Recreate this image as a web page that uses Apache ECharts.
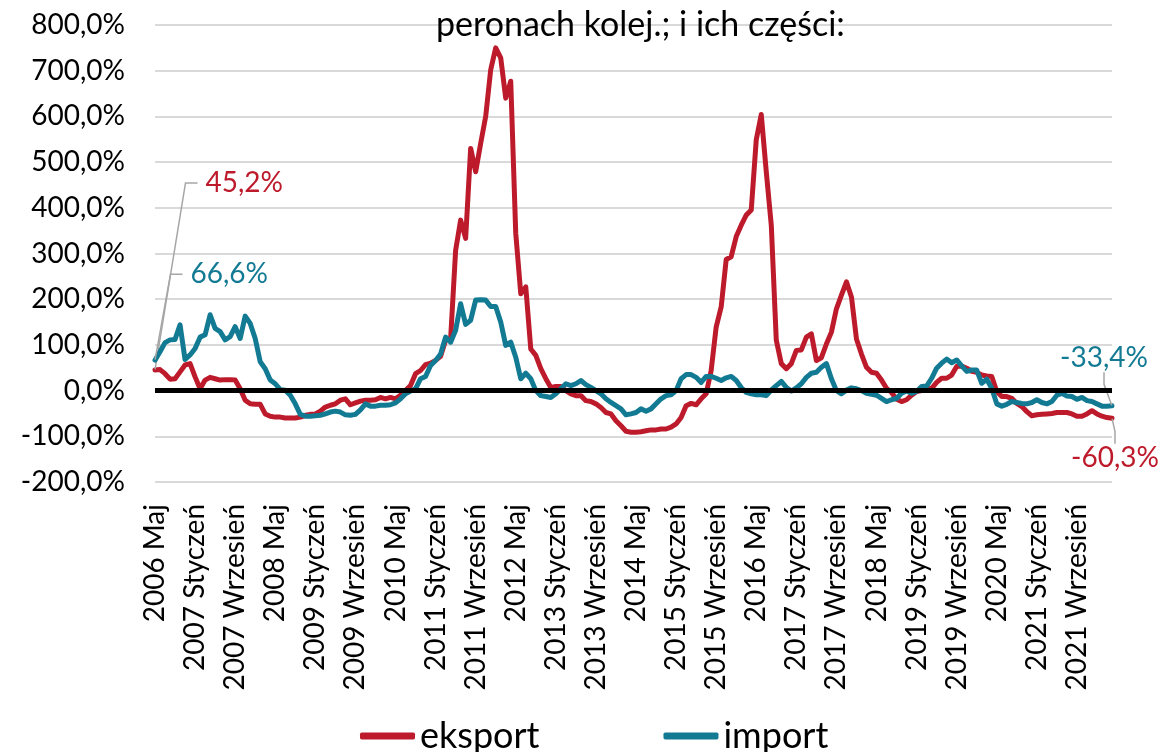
<!DOCTYPE html>
<html>
<head>
<meta charset="utf-8">
<script src="https://cdn.jsdelivr.net/npm/echarts@6/dist/echarts.min.js"></script>
<style>
html,body{margin:0;padding:0;background:#fff;}
#c{width:1160px;height:752px;}
</style>
</head>
<body>
<div id="c"></div>
<script>
const titleText = 'peronach kolej.; i ich części:';
const monthNames = ['Styczeń','Luty','Marzec','Kwiecień','Maj','Czerwiec','Lipiec','Sierpień','Wrzesień','Październik','Listopad','Grudzień'];
const startYear = 2006, startMonth = 4, nMonths = 192;
const seriesNames = ['eksport','import'];
const yTicks = {min:-200, max:800, interval:100};

const eksport = [
 45.2, 46, 37, 25, 26, 41, 56, 59, 30, 4, 23, 29, 26, 23, 24, 24, 23, 4, -21, -29,
 -30, -30, -51, -56, -58, -58, -60, -60, -60, -58, -54, -52, -51, -45, -36, -32, -29, -21, -18, -31,
 -27, -23, -21, -21, -20, -15, -18, -15, -18, -10,
 0, 11, 37, 44, 57, 60, 66, 75, 110, 113, 307, 373, 333, 530, 479, 541, 600, 702, 750, 728,
 640, 677, 344, 212, 227, 91, 77, 48, 26, 7, 9, 9, 0, -7, -11, -11, -22, -24, -29, -37,
 -48, -51, -66, -77, -89, -91, -91, -90,
 -88, -86, -86, -84, -84, -80, -73, -59, -33, -28, -31, -18, -7, 44, 139, 183, 287, 293, 337, 362,
 384, 395, 549, 604, 479, 362, 110, 59, 48, 59, 88, 89, 117, 124, 66, 72, 102, 128, 179, 209,
 238, 205, 113, 80, 51, 40, 38,
 23, 5, -4, -19, -24, -20, -10, -2, 0, 3, 5, 18, 27, 27, 34, 53, 54, 49, 42, 40,
 34, 32, 31, -2, -13, -13, -17, -28, -35, -46, -55, -53, -52, -51, -50, -48, -48, -48, -51, -56,
 -56, -51, -44, -51, -56, -59, -60.3
];
const importData = [
 66.6, 85, 105, 111, 112, 144, 68, 78, 92, 117, 122, 166, 136, 129, 111, 118, 140, 114, 163, 147,
 114, 63, 48, 23, 15, 2, 1, -10, -29, -52, -56, -56, -55, -54, -51, -47, -45, -47, -53, -54,
 -52, -42, -29, -34, -34, -32, -32, -31, -27, -18,
 -7, -1, 4, 26, 31, 55, 66, 80, 117, 106, 132, 190, 145, 154, 198, 199, 198, 184, 184, 150,
 99, 106, 73, 26, 38, 26, 0, -11, -13, -15, -7, 4, 15, 11, 15, 22, 13, 7, 0, -7,
 -18, -26, -33, -40, -53, -51, -48, -40,
 -45, -40, -29, -18, -11, -9, 0, 26, 35, 35, 29, 18, 31, 31, 27, 22, 28, 31, 22, 7,
 -4, -7, -9, -9, -11, 1, 11, 20, 7, -1, 6, 15, 29, 38, 40, 51, 59, 26, 0, -7,
 1, 6, 4, 0, -6, -8, -10,
 -17, -24, -20, -17, -6, -1, -6, -2, 9, 10, 27, 49, 60, 69, 61, 67, 54, 42, 45, 45,
 16, 25, 5, -29, -34, -30, -24, -26, -28, -29, -26, -20, -26, -29, -24, -10, -6, -12, -13, -19,
 -15, -22, -24, -29, -34, -34, -33.4
];

const categories = [];
for (let k = 0; k < nMonths; k++) {
  const m = startMonth + k;
  categories.push((startYear + Math.floor(m / 12)) + ' ' + monthNames[m % 12]);
}

const RED = '#BD1B2C', TEAL = '#127A93';
const FONT = 'Lato';
const CLEAR = 'rgba(255,255,255,0)';
const fmtPct = v => v.toFixed(1).replace('.', ',') + '%';

function labelCfg(color, extra) {
  return Object.assign({show: true, color: color, fontFamily: FONT, fontSize: 28, formatter: p => fmtPct(p.value)}, extra);
}
function buildData(values, color, firstLab, lastLab) {
  return values.map((v, i) => {
    if (i === 0) return {value: v, label: labelCfg(color, firstLab), labelLine: {show: true}};
    if (i === values.length - 1) return {value: v, label: labelCfg(color, lastLab), labelLine: {show: true}};
    return v;
  });
}

const chart = echarts.init(document.getElementById('c'), null, {renderer: 'canvas'});
const lineCommon = {
  type: 'line',
  showSymbol: true,
  showAllSymbol: true,
  symbol: 'circle',
  symbolSize: 1,
  smooth: false,
  labelLine: {show: true, lineStyle: {color: '#A6A6A6', width: 1.5}, length2: 12},
  emphasis: {disabled: true}
};
chart.setOption({
  animation: false,
  title: {
    text: titleText,
    left: 431, top: 3,
    textStyle: {fontFamily: FONT, fontSize: 34, fontWeight: 'normal', color: '#000'}
  },
  grid: {left: 155, right: 48, top: 25, bottom: 270, containLabel: false},
  legend: {
    left: 355, top: 713,
    itemGap: 124, itemWidth: 55, itemHeight: 7,
    textStyle: {fontFamily: FONT, fontSize: 36, color: '#000'},
    data: [{name: seriesNames[0], icon: 'roundRect'}, {name: seriesNames[1], icon: 'roundRect'}]
  },
  xAxis: {
    type: 'category',
    data: categories,
    boundaryGap: false,
    axisLine: {show: false},
    axisTick: {show: false},
    axisLabel: {interval: 7, rotate: 90, margin: 22, fontFamily: FONT, fontSize: 28, color: '#000'},
    splitLine: {show: false}
  },
  yAxis: {
    type: 'value',
    min: yTicks.min, max: yTicks.max, interval: yTicks.interval,
    axisLine: {show: false},
    axisTick: {show: false},
    axisLabel: {formatter: fmtPct, fontFamily: FONT, fontSize: 28, color: '#000', margin: 30},
    splitLine: {lineStyle: {color: '#D9D9D9', width: 2}}
  },
  series: [
    Object.assign({}, lineCommon, {
      name: seriesNames[0],
      z: 3,
      data: buildData(eksport, RED,
        {position: 'right', padding: [0, 60, 0, 8], backgroundColor: CLEAR},
        {position: 'bottom'}),
      itemStyle: {color: RED},
      lineStyle: {color: RED, width: 5, join: 'round', cap: 'round'},
      labelLayout: p => p.dataIndex === 0 ? {dx: 37, dy: -187} : {dx: 3, dy: 20},
      markLine: {
        silent: true, symbol: 'none', label: {show: false},
        lineStyle: {color: '#000', width: 5, type: 'solid'},
        data: [{yAxis: 0}]
      }
    }),
    Object.assign({}, lineCommon, {
      name: seriesNames[1],
      z: 4,
      data: buildData(importData, TEAL,
        {position: 'right', padding: [0, 0, 0, 8], backgroundColor: CLEAR},
        {position: 'top'}),
      itemStyle: {color: TEAL},
      lineStyle: {color: TEAL, width: 5, join: 'round', cap: 'round'},
      labelLayout: p => p.dataIndex === 0 ? {dx: 22, dy: -86} : {dx: -8, dy: -28}
    })
  ]
});
</script>
</body>
</html>
